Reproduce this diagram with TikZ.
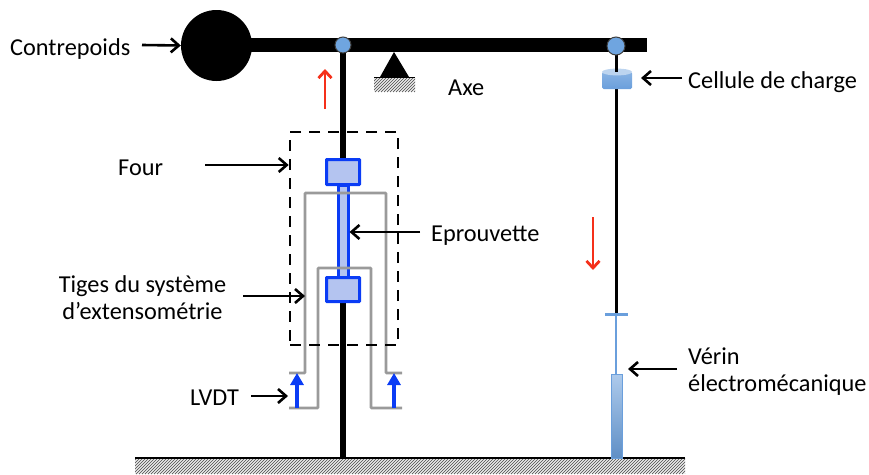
\documentclass[tikz,border=0pt]{standalone}
\usepackage{fontspec}
\setmainfont{Carlito}
\usetikzlibrary{arrows.meta,calc}
\definecolor{bluestrong}{HTML}{0A3CF5}
\definecolor{bluefill}{HTML}{B4C4F0}
\definecolor{ballblue}{HTML}{6FA5E0}
\definecolor{cellblue}{HTML}{6A9FDC}
\definecolor{redarr}{HTML}{F5301A}
\definecolor{greyrod}{HTML}{9A9A9A}
\tikzset{
  lbl/.style={font=\fontsize{24.3}{27}\selectfont,inner sep=0pt,text=black},
  callout/.style={line width=2.6pt,-{Straight Barb[length=8pt,width=14pt,line width=2.6pt]},black},
  redarrow/.style={line width=2.8pt,-{Straight Barb[length=7pt,width=13pt,line width=2.8pt]},redarr},
  bluearrow/.style={line width=4.4pt,-{Triangle[length=12pt,width=13pt]},bluestrong},
  greyrodline/.style={line width=2.8pt,greyrod,rounded corners=0.8pt},
  block/.style={draw=bluestrong,line width=3pt,fill=bluefill,inner sep=0pt,rounded corners=0.6pt},
  ball/.style={circle,draw=black!75,line width=1pt,fill=ballblue,inner sep=0pt},
  hatchline/.style={line width=0.8pt,black!60},
}
\newcommand{\hatchband}[5]{% x1 y1 x2 y2 count
  \begin{scope}
    \clip (#1,#2) rectangle (#3,#4);
    \foreach \k in {0,...,#5} {\draw[hatchline] ({#1+3*\k-20},#4) -- ++(40,-40);}
  \end{scope}}
\begin{document}
\begin{tikzpicture}[x=1pt,y=-1pt]
\useasboundingbox (0,0) rectangle (869,474);
% ground and axis hatching
\hatchband{135}{458}{685}{474}{195}
\hatchband{374}{78}{415}{92}{24}
\coordinate (groundL) at (135,458);
\coordinate (groundR) at (685,458);
\draw[line width=1.8pt,black] (groundL) -- (groundR);
% beam
\node[circle,fill=black,inner sep=0pt,minimum size=71pt] (cw) at (216.5,45.5) {};
\coordinate (beamL) at (217,45);
\coordinate (beamR) at (647,45);
\draw[line width=14pt,black] (beamL) -- (beamR);
% pivot
\fill[black] (394,52) -- (380,77) -- (409,77) -- cycle;
\coordinate (axeL) at (374,77.5);
\coordinate (axeR) at (415,77.5);
\draw[line width=1.8pt,black] (axeL) -- (axeR);
% left column
\coordinate (leftTop) at (343,45);
\coordinate (leftBot) at (343,458);
\draw[line width=5.5pt,black] (leftTop) -- (leftBot);
% specimen
\node[draw=bluestrong,line width=3pt,fill=bluefill,inner sep=0pt,minimum width=10pt,minimum height=92pt] (spec) at (343,231) {};
\node[block,minimum width=33pt,minimum height=25pt] (blockU) at (343,172) {};
\node[block,minimum width=33pt,minimum height=24pt] (blockL) at (343,289.5) {};
% grey rods
\coordinate (o1) at (289,373);\coordinate (o2) at (305,373);\coordinate (o3) at (305,193);
\coordinate (o4) at (386,193);\coordinate (o5) at (386,373);\coordinate (o6) at (402,373);
\coordinate (i1) at (289,408);\coordinate (i2) at (318,408);\coordinate (i3) at (318,268);
\coordinate (i4) at (371,268);\coordinate (i5) at (371,408);\coordinate (i6) at (402,408);
\draw[greyrodline] (o1) -- (o2) -- (o3) -- (o4) -- (o5) -- (o6);
\draw[greyrodline] (i1) -- (i2) -- (i3) -- (i4) -- (i5) -- (i6);
% blue arrows
\coordinate (bl1) at (297,408);\coordinate (bl2) at (297,373);
\coordinate (br1) at (394,408);\coordinate (br2) at (394,373);
\draw[bluearrow] (bl1) -- (bl2);
\draw[bluearrow] (br1) -- (br2);
% furnace
\node[draw=black,line width=2.6pt,dash pattern=on 11pt off 8pt,inner sep=0pt,minimum width=108pt,minimum height=213pt] (four) at (344,238.5) {};
% right column
\coordinate (rodTop) at (616,46);
\coordinate (rodCell) at (616,72);
\coordinate (rodBot) at (616,314);
\draw[line width=3pt,black] (rodCell) -- (rodBot);
% load cell
\shade[top color=cellblue!80,bottom color=cellblue,draw=none,rounded corners=1.5pt] (602,72) rectangle (632,89);
\fill[cellblue!45] (617,72) ellipse (15pt and 3.4pt);
\draw[line width=3pt,black] (rodTop) -- (rodCell);
\coordinate (cellE) at (641,78);
% balls
\node[ball,minimum size=16pt] (ballL) at (343,45) {};
\node[ball,minimum size=18pt] (ballR) at (616,46) {};
% actuator
\coordinate (barL) at (605,314.5);\coordinate (barR) at (628,314.5);
\coordinate (stemB) at (616,374);\coordinate (stemT) at (616,314.5);
\draw[line width=2.4pt,cellblue] (barL) -- (barR);
\draw[line width=2.4pt,cellblue] (stemT) -- (stemB);
\shade[top color=cellblue!55,bottom color=cellblue!90!black,draw=cellblue,line width=0.8pt] (611,374) rectangle (622,458);
% red arrows
\coordinate (ra1) at (325,109);\coordinate (ra2) at (325,69);
\coordinate (rb1) at (593,217);\coordinate (rb2) at (593,270);
\draw[redarrow] (ra1) -- (ra2);
\draw[redarrow] (rb1) -- (rb2);
% labels
\node[lbl,anchor=west] (tContre) at (10,49) {Contrepoids};
\node[lbl,anchor=west] (tFour) at (118,168) {Four};
\node[lbl,anchor=west] (tEprou) at (431,235.5) {Eprouvette};
\node[lbl,align=center] (tTiges) at (142.5,298) {Tiges du système\\d’extensométrie};
\node[lbl,anchor=west] (tLVDT) at (190,398) {LVDT};
\node[lbl,anchor=west] (tAxe) at (448,88) {Axe};
\node[lbl,anchor=west] (tCell) at (688,82) {Cellule de charge};
\node[lbl,anchor=west,align=left] (tVerin) at (688,371.5) {Vérin\\électromécanique};
% callouts
\coordinate (aContre) at (142,45);
\coordinate (aFour) at (205,165);
\coordinate (aEprou) at (420,232);
\coordinate (aTiges) at (243,296);
\coordinate (aLVDT) at (251,396);
\coordinate (aLVDTe) at (288,396);
\coordinate (aCell) at (682,78);
\coordinate (aVerin) at (677,369);
\coordinate (aVerinE) at (628,369);
\draw[callout] (aContre) -- (cw.west);
\draw[callout] (aFour) -- (aFour -| four.west);
\draw[callout] (aEprou) -- (aEprou -| spec.east);
\draw[callout] (aTiges) -- (aTiges -| o3);
\draw[callout] (aLVDT) -- (aLVDTe);
\draw[callout] (aCell) -- (cellE);
\draw[callout] (aVerin) -- (aVerinE);
\end{tikzpicture}
\end{document}
